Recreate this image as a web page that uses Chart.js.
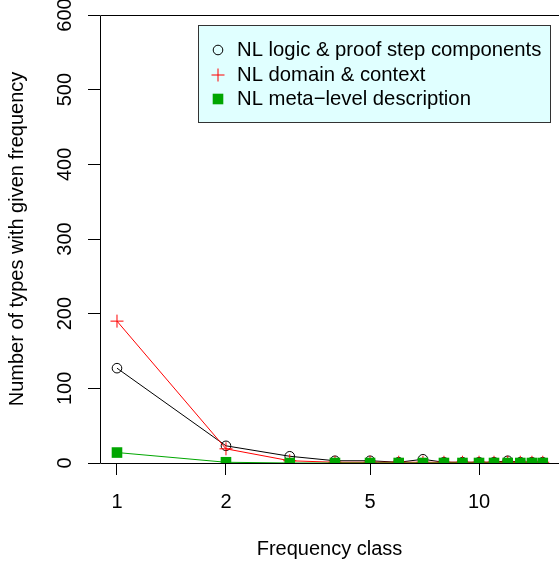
<!DOCTYPE html>
<html>
<head>
<meta charset="utf-8">
<title>Frequency spectrum</title>
<script src="https://cdn.jsdelivr.net/npm/chart.js@4/dist/chart.umd.min.js"></script>
<style>
  html, body { margin: 0; padding: 0; background: #fff; }
  #wrap { width: 559px; height: 565px; }
</style>
</head>
<body>
<div id="wrap"><canvas id="spectrum" width="559" height="565"></canvas></div>
<script>
  // ---------- Data ----------
  const freqClasses = [1, 2, 3, 4, 5, 6, 7, 8, 9, 10, 11, 12, 13, 14, 15];
  const logicCounts = [127, 23, 9, 3, 3, 1, 5, 1, 1, 1, 1, 3, 1, 1, 1];
  const domainCounts = [190, 19, 3, 1, 1, 1, 1, 1, 1, 1, 1, 1, 1, 1, 1];
  const metaCounts = [14, 1, 0, 0, 0, 0, 0, 0, 0, 0, 0, 0, 0, 0, 0];
  const xTickValues = [1, 2, 5, 10];
  const yTickValues = [0, 100, 200, 300, 400, 500, 600];
  const seriesLabels = [
    "NL logic & proof step components",
    "NL domain & context",
    "NL meta\u2212level description",
  ];

  const color = {
    black: "#000000",
    red: "#ff0000",
    green: "#00a600",
    legendBg: "#e0ffff",
    frame: "#000000",
  };
  const FONT = '"Liberation Sans", Arial, Helvetica, sans-serif';

  const toPoints = (ys) => freqClasses.map((x, i) => ({ x, y: ys[i] }));

  // ---------- Plot frame (R style box, right side falls off the canvas) ----------
  const framePlugin = {
    id: "frame",
    afterDatasetsDraw(chart) {
      const { ctx, chartArea: a } = chart;
      ctx.save();
      ctx.strokeStyle = color.frame;
      ctx.lineWidth = 1;
      ctx.beginPath();
      ctx.moveTo(Math.round(a.right) + 2, Math.round(a.top) + 0.5);
      ctx.lineTo(Math.round(a.left) + 0.5, Math.round(a.top) + 0.5);
      ctx.lineTo(Math.round(a.left) + 0.5, Math.round(a.bottom) + 0.5);
      ctx.lineTo(Math.round(a.right) + 2, Math.round(a.bottom) + 0.5);
      ctx.stroke();
      ctx.restore();
    },
  };

  // ---------- Legend box inside the plot ----------
  const boxLegend = {
    id: "boxLegend",
    afterDraw(chart) {
      const { ctx } = chart;
      const box = { x: 198.5, y: 25.5, w: 352, h: 97 };
      const rows = [50, 75, 99];
      const symX = 218;
      const textX = 237;
      ctx.save();
      ctx.fillStyle = color.legendBg;
      ctx.strokeStyle = "#333";
      ctx.lineWidth = 1;
      ctx.fillRect(box.x, box.y, box.w, box.h);
      ctx.strokeRect(box.x, box.y, box.w, box.h);

      chart.data.datasets.forEach((ds, i) => {
        const y = rows[i];
        ctx.strokeStyle = ds.pointBorderColor;
        ctx.fillStyle = ds.pointBackgroundColor;
        ctx.lineWidth = 1;
        if (ds.pointStyle === "circle") {
          ctx.beginPath();
          ctx.arc(symX, y, ds.pointRadius, 0, Math.PI * 2);
          ctx.stroke();
        } else if (ds.pointStyle === "cross") {
          ctx.beginPath();
          ctx.moveTo(symX - ds.pointRadius, y);
          ctx.lineTo(symX + ds.pointRadius, y);
          ctx.moveTo(symX, y - ds.pointRadius);
          ctx.lineTo(symX, y + ds.pointRadius);
          ctx.stroke();
        } else {
          const s = ds.pointRadius * Math.SQRT1_2;
          ctx.fillRect(symX - s, y - s, 2 * s, 2 * s);
        }
        ctx.fillStyle = "#000";
        ctx.font = `20.3px ${FONT}`;
        ctx.textBaseline = "middle";
        ctx.textAlign = "left";
        ctx.fillText(ds.label, textX, y);
      });
      ctx.restore();
    },
  };

  new Chart(document.getElementById("spectrum"), {
    type: "line",
    data: {
      datasets: [
        {
          label: seriesLabels[0],
          data: toPoints(logicCounts),
          borderColor: color.black,
          borderWidth: 1,
          pointStyle: "circle",
          pointRadius: 4.8,
          pointBorderWidth: 1,
          pointBorderColor: color.black,
          pointBackgroundColor: "rgba(0,0,0,0)",
          order: 2,
        },
        {
          label: seriesLabels[1],
          data: toPoints(domainCounts),
          borderColor: color.red,
          borderWidth: 1,
          pointStyle: "cross",
          pointRadius: 6.5,
          pointBorderWidth: 1,
          pointBorderColor: color.red,
          pointBackgroundColor: color.red,
          order: 1,
        },
        {
          label: seriesLabels[2],
          data: toPoints(metaCounts),
          borderColor: color.green,
          borderWidth: 1,
          pointStyle: "rect",
          pointRadius: 7.5,
          pointBorderWidth: 0,
          pointBorderColor: color.green,
          pointBackgroundColor: color.green,
          order: 0,
        },
      ],
    },
    options: {
      responsive: false,
      devicePixelRatio: 1,
      animation: false,
      layout: { autoPadding: false, padding: { left: 0, top: 15, right: 0, bottom: 0 } },
      plugins: {
        legend: { display: false },
        tooltip: { enabled: false },
      },
      elements: { line: { tension: 0 } },
      scales: {
        x: {
          type: "logarithmic",
          min: 0.8976,
          max: 16.63,
          bounds: "data",
          afterBuildTicks: (s) => {
            s.ticks = xTickValues.map((v) => ({ value: v }));
          },
          afterFit: (s) => {
            s.height = 102;
            s.paddingLeft = 0;
            s.paddingRight = 0;
          },
          grid: {
            drawOnChartArea: false,
            drawTicks: true,
            tickLength: 12,
            color: "#000",
            lineWidth: 1,
          },
          border: { display: false },
          ticks: {
            autoSkip: false,
            maxRotation: 0,
            padding: 15,
            color: "#000",
            font: { family: FONT, size: 20 },
            callback: (v) => String(v),
          },
          title: {
            display: true,
            text: "Frequency class",
            color: "#000",
            font: { family: FONT, size: 20 },
            padding: { top: 0, bottom: 4 },
          },
        },
        y: {
          type: "linear",
          min: 0,
          max: 600,
          afterBuildTicks: (s) => {
            s.ticks = yTickValues.map((v) => ({ value: v }));
          },
          afterFit: (s) => {
            s.width = 100;
            s.paddingTop = 0;
            s.paddingBottom = 0;
          },
          grid: {
            drawOnChartArea: false,
            drawTicks: true,
            tickLength: 12,
            color: "#000",
            lineWidth: 1,
          },
          border: { display: false },
          ticks: {
            minRotation: 90,
            maxRotation: 90,
            crossAlign: "center",
            padding: 6,
            color: "#000",
            font: { family: FONT, size: 20 },
          },
          title: {
            display: true,
            text: "Number of types with given frequency",
            color: "#000",
            font: { family: FONT, size: 20 },
            padding: { top: 5, bottom: 0 },
          },
        },
      },
    },
    plugins: [framePlugin, boxLegend],
  });
</script>
</body>
</html>
